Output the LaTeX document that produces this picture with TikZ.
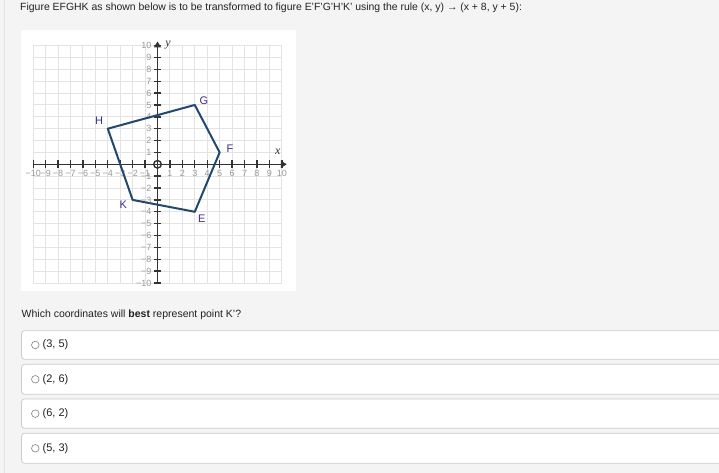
\documentclass[tikz,border=0pt]{standalone}
\usepackage{fontspec}
\setmainfont{Liberation Sans}
\newfontfamily\axisfont{Liberation Serif}
\usetikzlibrary{arrows.meta}
\definecolor{pagebg}{HTML}{F4F4F4}
\definecolor{edgec}{HTML}{E2E2E2}
\definecolor{gridc}{HTML}{E3E3E3}
\definecolor{axisc}{HTML}{333333}
\definecolor{polyc}{RGB}{35,72,110}
\definecolor{ptlab}{RGB}{60,45,150}
\definecolor{tickc}{HTML}{999999}
\definecolor{txtc}{HTML}{222222}
\definecolor{boxc}{HTML}{CCCCCC}
\tikzset{
  txt/.style={font=\fontsize{10.45}{13}\selectfont, text=txtc, inner sep=0pt, anchor=west},
  opttxt/.style={font=\fontsize{11}{13}\selectfont, text=txtc, inner sep=0pt, anchor=west},
  gridline/.style={draw=gridc, line width=1pt},
  axisline/.style={draw=axisc, line width=1.4pt},
  ticklab/.style={font=\fontsize{9}{10}\selectfont, text=tickc, inner sep=0pt},
  ptlabel/.style={font=\fontsize{11}{13}\selectfont, text=ptlab, inner sep=0pt},
  axlabel/.style={font=\axisfont\itshape\fontsize{12}{14}\selectfont, text=axisc, inner sep=0pt},
  poly/.style={draw=polyc, line width=2pt, line join=round},
  optbox/.style={draw=boxc, fill=white, line width=0.8pt, rounded corners=3pt},
  radio/.style={draw=gray, line width=0.6pt},
}
\begin{document}
\begin{tikzpicture}[x=1pt,y=-1pt]
\fill[pagebg] (0,0) rectangle (719,473);
\useasboundingbox (0,0) rectangle (719,473);
\draw[draw=edgec, line width=0.8pt] (4,0) -- (4,473);
\node[txt] (title) at (20,8) {Figure EFGHK as shown below is to be transformed to figure E'F'G'H'K' using the rule (x, y) → (x + 8, y + 5):};
\fill[white] (20.5,30) rectangle (296,291);
\begin{scope}[shift={(157.5pt,-164.3pt)}, x=12.43pt, y=11.87pt]
  \draw[gridline] (-10,-10) grid[step=1] (10,10);
  \draw[axisline, -{Triangle[length=6pt,width=7pt]}] (-10,0) -- (10.4,0);
  \draw[axisline, -{Triangle[length=6pt,width=7pt]}] (0,-10) -- (0,10.35);
  \foreach \i in {-10,...,-1,1,2,...,10} {
    \draw[axisline] (\i,0) ++(0,-4pt) -- ++(0,8pt);
    \draw[axisline] (0,\i) ++(-3.5pt,0) -- ++(7pt,0);
  }
  \draw[axisline] (0,0) circle (3.8pt);
  \foreach \i in {-10,...,-1} {
    \node[ticklab] (xl\i) at ([yshift=-9pt]\i,0) {−\the\numexpr-\i\relax};
    \node[ticklab, anchor=east] (yl\i) at ([xshift=-6pt]0,\i) {−\the\numexpr-\i\relax};
  }
  \foreach \i in {1,...,10} {
    \node[ticklab] (xl\i) at ([yshift=-9pt]\i,0) {\i};
    \node[ticklab, anchor=east] (yl\i) at ([xshift=-6pt]0,\i) {\i};
  }
  \node[axlabel] (ylab) at (0.85,10.05) {y};
  \node[axlabel] (xlab) at (9.67,1.04) {x};
  \coordinate (E) at (3,-4);
  \coordinate (F) at (5,1);
  \coordinate (G) at (3,5);
  \coordinate (H) at (-4,3);
  \coordinate (K) at (-2,-3);
  \draw[poly] (E) -- (F) -- (G) -- (H) -- (K) -- cycle;
\end{scope}
\node[ptlabel] (Glab) at (204,100.7) {G};
\node[ptlabel] (Hlab) at (99,120.7) {H};
\node[ptlabel] (Flab) at (230,149) {F};
\node[ptlabel] (Klab) at (123.3,205) {K};
\node[ptlabel] (Elab) at (201.7,219) {E};
\node[txt, font=\fontsize{10.5}{13}\selectfont] (question) at (21.5,315) {Which coordinates will \textbf{best} represent point K'?};
\foreach \t/\b/\lab [count=\n] in {330.7/359.3/{(3, 5)}, 364.3/394.3/{(2, 6)}, 399/428.3/{(6, 2)}, 433.3/463.3/{(5, 3)}} {
  \draw[optbox] (21.5,\t) rectangle (730,\b);
  \draw[radio] (35.3,{(\t+\b)/2}) circle (3.8pt);
  \node[opttxt] (opt\n) at (42.5,{(\t+\b)/2}) {\lab};
}
\end{tikzpicture}
\end{document}
